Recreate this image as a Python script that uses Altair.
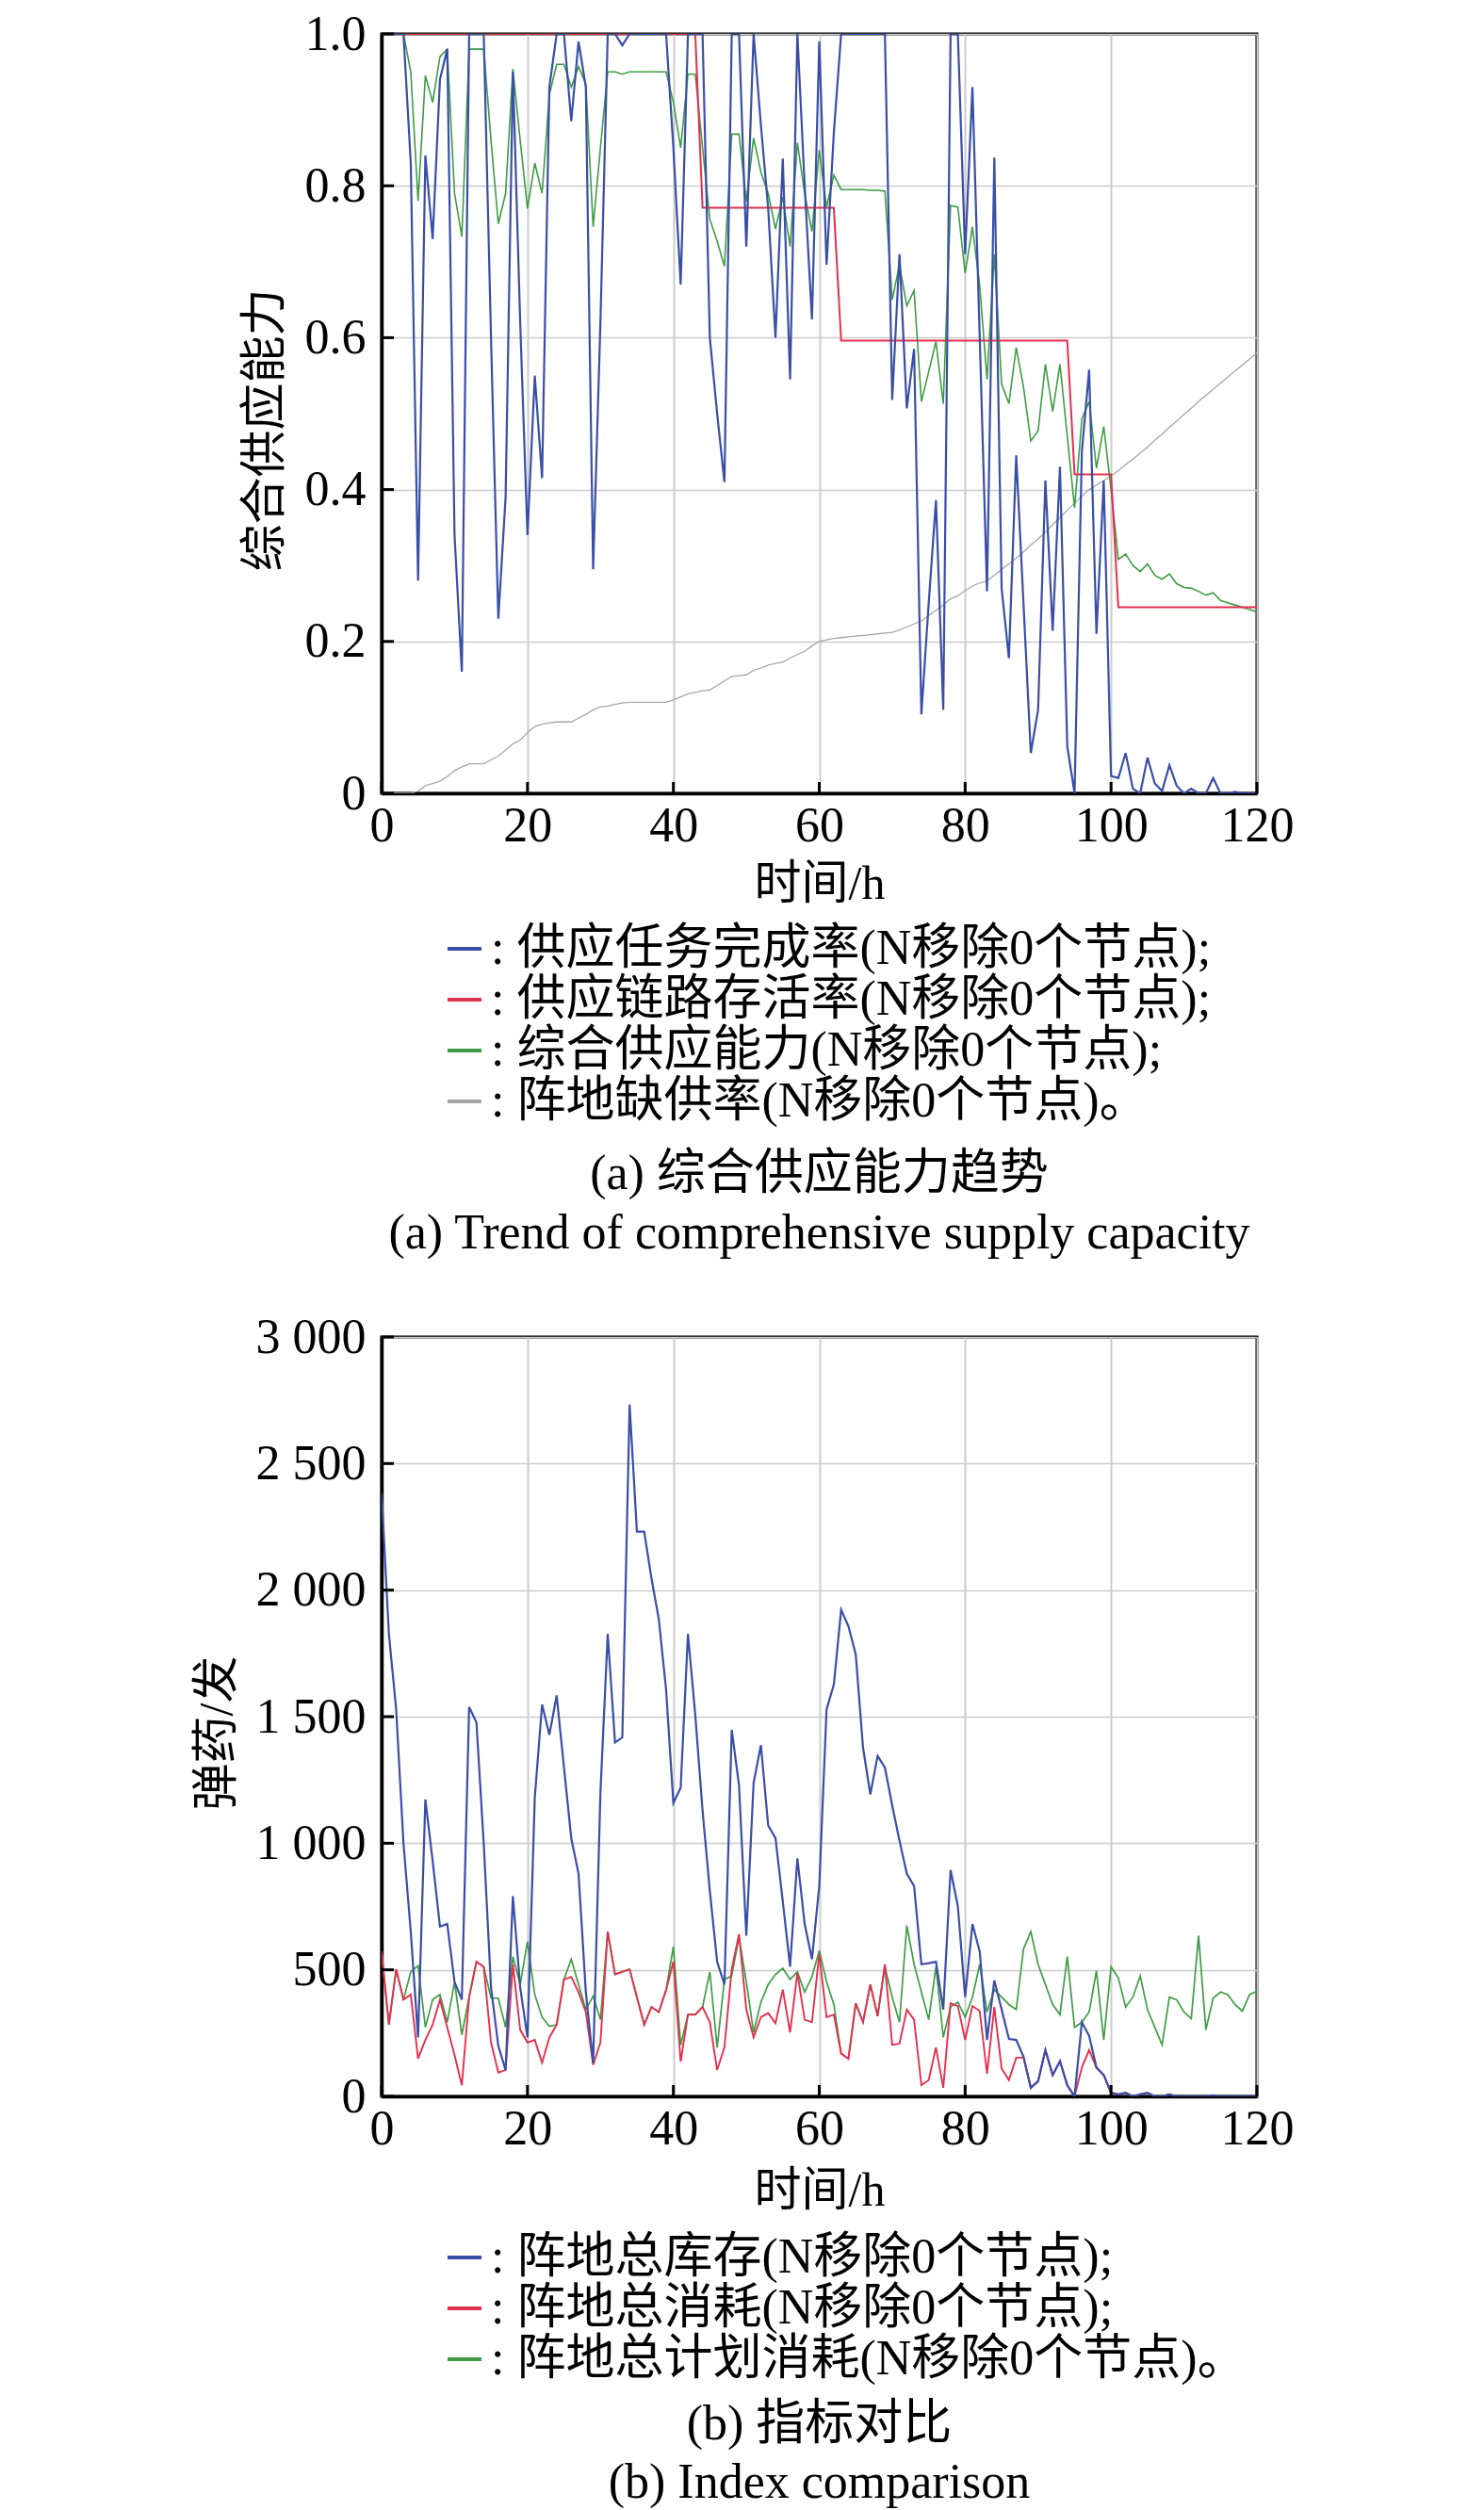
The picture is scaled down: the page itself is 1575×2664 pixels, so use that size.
import altair as alt
import pandas as pd

FONT = "Liberation Serif, 'Noto Sans CJK SC'"

hours = list(range(121))

# ---------- panel (a) ----------
completion = [1.0, 1.0, 1.0, 1.0, 0.83, 0.28, 0.84, 0.73, 0.94, 0.98,
              0.34, 0.16, 1.0, 1.0, 1.0, 0.6, 0.23, 0.39, 0.95, 0.62,
              0.34, 0.55, 0.415, 0.93, 1.0, 1.0, 0.885, 0.99, 0.93, 0.295,
              0.62, 1.0, 1.0, 0.985, 1.0, 1.0, 1.0, 1.0, 1.0, 1.0,
              0.85, 0.67, 1.0, 1.0, 1.0, 0.6, 0.5, 0.41, 1.0, 1.0,
              0.72, 1.0, 0.88, 0.77, 0.6, 0.836, 0.545, 1.0, 0.8, 0.624,
              0.99, 0.696, 0.87, 1.0, 1.0, 1.0, 1.0, 1.0, 1.0, 1.0,
              0.518, 0.71, 0.507, 0.585, 0.104, 0.25, 0.386, 0.11, 1.0, 1.0,
              0.71, 0.93, 0.6, 0.266, 0.837, 0.27, 0.178, 0.445, 0.25, 0.053,
              0.11, 0.412, 0.214, 0.43, 0.062, 0.0, 0.45, 0.558, 0.21, 0.412,
              0.023, 0.02, 0.053, 0.006, 0.0, 0.047, 0.013, 0.003, 0.037, 0.01,
              0.0, 0.006, 0.0, 0.0, 0.02, 0.0, 0.0, 0.002, 0.0, 0.0, 0.0]

survival = ([1.0] * 44) + ([0.771] * 19) + ([0.596] * 32) + ([0.42] * 6) + ([0.245] * 20)

capacity = [1.0, 1.0, 1.0, 1.0, 0.95, 0.78, 0.945, 0.91, 0.97, 0.98,
            0.79, 0.733, 0.98, 0.98, 0.98, 0.86, 0.75, 0.79, 0.954, 0.86,
            0.77, 0.83, 0.79, 0.92, 0.96, 0.96, 0.93, 0.957, 0.934, 0.746,
            0.85, 0.95, 0.95, 0.947, 0.95, 0.95, 0.95, 0.95, 0.95, 0.95,
            0.91, 0.85, 0.947, 0.947, 0.85, 0.756, 0.727, 0.694, 0.868, 0.868,
            0.78, 0.863, 0.818, 0.79, 0.743, 0.785, 0.72, 0.857, 0.79, 0.74,
            0.847, 0.772, 0.814, 0.795, 0.795, 0.795, 0.795, 0.794, 0.794, 0.793,
            0.65, 0.696, 0.642, 0.662, 0.516, 0.555, 0.595, 0.513, 0.774, 0.772,
            0.685, 0.746, 0.668, 0.545, 0.71, 0.539, 0.513, 0.587, 0.535, 0.464,
            0.477, 0.565, 0.503, 0.565, 0.47, 0.376, 0.493, 0.516, 0.428, 0.483,
            0.4, 0.308, 0.315, 0.3, 0.292, 0.302, 0.287, 0.282, 0.289, 0.276,
            0.271, 0.27, 0.266, 0.261, 0.264, 0.254, 0.251, 0.248, 0.245, 0.242, 0.239]

shortage = [0.0, 0.0, 0.0, 0.0, 0.0, 0.003, 0.01, 0.013, 0.016, 0.022,
            0.03, 0.035, 0.039, 0.039, 0.039, 0.044, 0.049, 0.057, 0.065, 0.07,
            0.08, 0.088, 0.091, 0.093, 0.094, 0.094, 0.094, 0.099, 0.104, 0.11,
            0.114, 0.115, 0.117, 0.119, 0.12, 0.12, 0.12, 0.12, 0.12, 0.12,
            0.123, 0.127, 0.131, 0.133, 0.135, 0.136, 0.142, 0.148, 0.154, 0.155,
            0.156, 0.162, 0.165, 0.169, 0.171, 0.173, 0.178, 0.183, 0.187, 0.194,
            0.2, 0.202, 0.204, 0.205, 0.206, 0.207, 0.208, 0.209, 0.21, 0.211,
            0.212, 0.215, 0.219, 0.223, 0.227, 0.234, 0.241, 0.248, 0.256, 0.26,
            0.267, 0.273, 0.277, 0.28, 0.287, 0.295, 0.302, 0.31, 0.318, 0.327,
            0.335, 0.344, 0.354, 0.363, 0.373, 0.382, 0.391, 0.4, 0.406, 0.412,
            0.418, 0.425, 0.433, 0.44, 0.448, 0.456, 0.465, 0.473, 0.482, 0.49,
            0.499, 0.507, 0.516, 0.524, 0.532, 0.54, 0.548, 0.556, 0.564, 0.572, 0.58]

# ---------- panel (b) ----------
inventory = [2384, 1827, 1528, 1000, 650, 233, 1173, 930, 671, 681,
             452, 382, 1538, 1478, 1000, 430, 200, 104, 791, 430,
             233, 1179, 1548, 1428, 1584, 1300, 1020, 880, 412, 133,
             1200, 1827, 1398, 1418, 2733, 2231, 2231, 2046, 1886, 1608,
             1159, 1219, 1827, 1508, 1129, 811, 532, 442, 1448, 1229,
             635, 1239, 1388, 1070, 1020, 770, 512, 940, 681, 542,
             831, 1528, 1627, 1922, 1857, 1747, 1378, 1193, 1345, 1299,
             1149, 1010, 880, 831, 522, 526, 532, 343, 894, 751,
             392, 681, 572, 223, 458, 343, 227, 223, 157, 34,
             60, 183, 84, 139, 44, 0, 293, 239, 114, 84,
             14, 8, 14, 0, 8, 14, 0, 0, 8, 0,
             0, 0, 0, 0, 4, 0, 0, 0, 0, 0, 0]

consumption = [572, 283, 502, 382, 402, 149, 223, 283, 382, 273,
               163, 44, 392, 532, 512, 213, 94, 104, 522, 263,
               213, 223, 133, 233, 283, 462, 472, 412, 333, 124,
               213, 651, 482, 492, 502, 392, 283, 353, 333, 420,
               532, 137, 323, 323, 353, 293, 104, 193, 502, 641,
               343, 233, 313, 329, 289, 422, 253, 488, 303, 293,
               562, 313, 323, 169, 149, 368, 293, 442, 317, 522,
               203, 209, 343, 303, 44, 64, 193, 34, 368, 357,
               223, 357, 337, 90, 353, 110, 64, 153, 153, 34,
               60, 183, 84, 139, 44, 0, 114, 183, 114, 84,
               14, 8, 14, 0, 8, 14, 0, 0, 8, 0,
               0, 0, 0, 0, 4, 0, 0, 0, 0, 0, 0]

planned = [572, 283, 502, 382, 492, 516, 273, 382, 402, 293,
           452, 243, 392, 532, 512, 388, 388, 273, 552, 442,
           612, 402, 313, 277, 283, 462, 542, 442, 343, 396,
           303, 651, 482, 492, 502, 392, 283, 353, 333, 420,
           592, 203, 323, 323, 353, 492, 193, 462, 476, 631,
           452, 253, 372, 442, 482, 506, 462, 492, 412, 472,
           576, 452, 363, 169, 149, 368, 293, 442, 317, 512,
           392, 293, 675, 522, 412, 303, 512, 233, 353, 372,
           313, 392, 522, 333, 422, 392, 363, 343, 582, 651,
           522, 442, 363, 323, 552, 273, 293, 333, 496, 223,
           512, 468, 353, 392, 476, 343, 273, 203, 392, 382,
           333, 307, 635, 263, 388, 412, 402, 363, 337, 402, 416]

x_ticks = [0, 20, 40, 60, 80, 100, 120]
y1_ticks = [0, 0.2, 0.4, 0.6, 0.8, 1.0]
y2_ticks = [0, 500, 1000, 1500, 2000, 2500, 3000]

names1 = ["供应任务完成率(N移除0个节点);", "供应链路存活率(N移除0个节点);",
          "综合供应能力(N移除0个节点);", "阵地缺供率(N移除0个节点)。"]
colors1 = ["#3a4ea6", "#e3304d", "#3f9c45", "#a6a6a6"]
widths1 = [2.2, 2.0, 1.6, 1.3]
order1 = [3, 2, 1, 0]  # drawing order (gray first, blue last)

names2 = ["阵地总库存(N移除0个节点);", "阵地总消耗(N移除0个节点);",
          "阵地总计划消耗(N移除0个节点)。"]
colors2 = ["#3a4ea6", "#e3304d", "#3f9c45"]
widths2 = [2.2, 1.9, 1.7]
order2 = [2, 1, 0]

captions1 = ["(a) 综合供应能力趋势", "(a) Trend of comprehensive supply capacity"]
captions2 = ["(b) 指标对比", "(b) Index comparison"]

W, H = 929, 806
FS = 52


def panel(series, names, colors, widths, order, ydom, yticks, ylabel_expr,
          ytitle, ytitle_x, legend_y, captions, cap_y, xtitle_y):
    common = dict(labelFont=FONT, titleFont=FONT, labelFontSize=FS,
                  titleFontSize=50, titleFontWeight="normal",
                  labelColor="black", titleColor="black", gridColor="#cccccc",
                  domain=True, domainColor="black", domainWidth=3.5,
                  ticks=False, labelOverlap=False, labelFlush=False)
    xaxis = alt.Axis(values=x_ticks, title="时间/h", labelPadding=9,
                     gridWidth=2, titleX=W / 2, titleY=xtitle_y,
                     titleBaseline="middle", titleAlign="center", format="d",
                     **common)
    yaxis = alt.Axis(values=yticks, title=ytitle, labelExpr=ylabel_expr,
                     labelPadding=17, gridWidth=1.5, titleAngle=270,
                     titleX=ytitle_x, titleY=420, titleBaseline="middle",
                     titleAlign="center", **common)
    xs = alt.Scale(domain=[0, 120], nice=False)
    ys = alt.Scale(domain=ydom, nice=False)
    cscale = alt.Scale(domain=names, range=colors)
    legend = alt.Legend(orient="none", legendX=62, legendY=legend_y,
                        direction="vertical", title=None, symbolType="stroke",
                        symbolSize=1300, symbolStrokeWidth=4, labelFont=FONT,
                        labelFontSize=FS, labelLimit=3000, labelOffset=2,
                        rowPadding=2, padding=0, labelColor="black",
                        labelExpr="': ' + datum.label")

    layers = []
    for i in order:
        df = pd.DataFrame({"h": hours, "v": series[i], "s": names[i]})
        layers.append(
            alt.Chart(df).mark_line(clip=True, strokeWidth=widths[i]).encode(
                x=alt.X("h:Q", scale=xs, axis=xaxis),
                y=alt.Y("v:Q", scale=ys, axis=yaxis),
                color=alt.Color("s:N", scale=cscale, legend=legend),
            )
        )
    xt = alt.Chart(pd.DataFrame({"h": x_ticks})).mark_rule(
        color="black", strokeWidth=3).encode(
        x=alt.X("h:Q", scale=xs, axis=xaxis),
        y=alt.value(H), y2=alt.value(H - 12))
    yt = alt.Chart(pd.DataFrame({"v": yticks})).mark_rule(
        color="black", strokeWidth=3).encode(
        y=alt.Y("v:Q", scale=ys, axis=yaxis),
        x=alt.value(0), x2=alt.value(13))
    layers += [xt, yt]
    for txt, yy in zip(captions, cap_y):
        layers.append(
            alt.Chart(pd.DataFrame({"t": [txt]})).mark_text(
                font=FONT, fontSize=FS, color="black",
                align="center", baseline="middle").encode(
                text="t:N", x=alt.value(W / 2), y=alt.value(yy))
        )
    return alt.layer(*layers).properties(width=W, height=H)


p1 = panel([completion, survival, capacity, shortage], names1, colors1, widths1,
           order1, [0, 1], y1_ticks,
           "datum.value == 0 ? '0' : format(datum.value, '.1f')",
           "综合供应能力", -124, 945, captions1, [1210, 1273], 96)

p2 = panel([inventory, consumption, planned], names2, colors2, widths2,
           order2, [0, 3000], y2_ticks,
           "datum.value < 1000 ? format(datum.value, 'd') : floor(datum.value / 1000) + ' ' + slice(format(datum.value, 'd'), -3)",
           "弹药/发", -175, 951, captions2, [1154, 1216], 100)

chart = alt.vconcat(p1, p2, spacing=577, bounds="flush").resolve_scale(
    color="independent", x="independent", y="independent"
).properties(
    padding={"left": 195, "top": 0, "right": 20, "bottom": 10},
    background="white"
).configure_view(
    stroke="black", strokeWidth=3
)

chart.save("out.html", embed_options={"renderer": "svg", "actions": False})
